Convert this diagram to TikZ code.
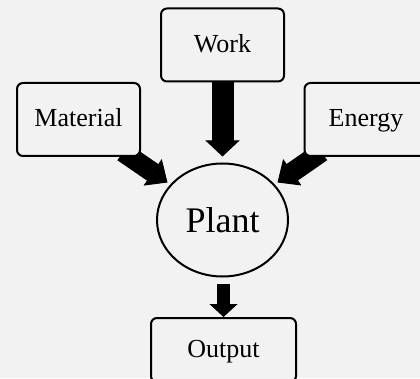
\documentclass[tikz,border=0pt]{standalone}
\usepackage{fontspec}
\setmainfont{Liberation Serif}
\usetikzlibrary{arrows.meta,calc,shapes.geometric}
\definecolor{paper}{HTML}{F2F2F2}
\pgfdeclarelayer{back}
\pgfsetlayers{back,main}
\tikzset{
  box/.style={draw=black, line width=2pt, rounded corners=6pt, fill=paper,
    minimum width=123pt, minimum height=73pt, inner sep=0pt,
    text height=18pt, text depth=3pt,
    font=\fontsize{26}{30}\selectfont},
  hub/.style={ellipse, draw=black, line width=2pt, fill=paper,
    minimum width=131pt, minimum height=113pt, inner sep=0pt,
    font=\fontsize{36}{42}\selectfont},
  flow/.style={line width=22pt, black,
    -{Triangle[width=34pt,length=16pt,line width=1pt]}},
  sideflow/.style={line width=20pt, black,
    -{Triangle[width=32pt,length=18pt,line width=1pt]}},
  outflow/.style={line width=13pt, black,
    -{Triangle[width=28pt,length=13pt,line width=1pt]}}
}
\begin{document}
\begin{tikzpicture}[x=1pt,y=1pt]
  \useasboundingbox (0,0) rectangle (420,378);
  \begin{pgfonlayer}{back}
    \fill[paper] (0,0) rectangle (420,378);
  \end{pgfonlayer}
  \clip (0,0) rectangle (420,378);

  % sources, plant and product
  \node[box] (work)     at (222.5,333)   {Work};
  \node[box] (material) at (78.5,258.5)  {Material};
  \node[box] (energy)   at (366,258.5)   {Energy};
  \node[hub] (plant)    at (222.5,158)   {Plant};
  \node[box, minimum width=145pt, minimum height=64pt] (output) at (223.5,28) {Output};

  % arrow tips stop just short of the plant
  \coordinate (worktip)     at ($(plant.north)+(0,6)$);
  \coordinate (materialtip) at ($(plant.center)+(-55,37.5)$);
  \coordinate (energytip)   at ($(plant.center)+(55,37.5)$);

  % block arrows run underneath the boxes
  \begin{pgfonlayer}{back}
    \draw[flow] (work.south) -- (worktip);
    \draw[sideflow] ($(material.south east)+(-18,5)$) -- (materialtip);
    \draw[sideflow] ($(energy.south west)+(18,5)$) -- (energytip);
    \draw[outflow] ($(output.north)+(0,33)$) -- (output.north);
  \end{pgfonlayer}
\end{tikzpicture}
\end{document}
